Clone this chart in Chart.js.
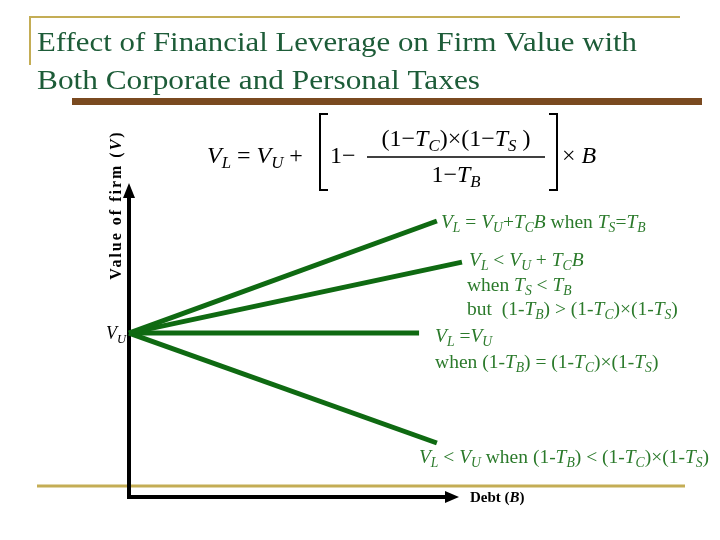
<!DOCTYPE html>
<html>
<head>
<meta charset="utf-8">
<script src="https://cdn.jsdelivr.net/npm/chart.js@4"></script>
<style>
  body { margin: 0; background: #fff; }
  canvas { display: block; }
</style>
</head>
<body>
<canvas id="leverageChart" width="720" height="540"></canvas>
<script>
// Four cases, each drawn as a line from V_U at zero debt
const cases = ['TS = TB', 'TS < TB, (1-TB) > (1-TC)(1-TS)', '(1-TB) = (1-TC)(1-TS)', '(1-TB) < (1-TC)(1-TS)'];
const debtStart = 0;
const firmValueStart = 52.2; // V_U
const debtEnd = [93.3, 100.9, 87.9, 93.3];
const firmValueEnd = [87.9, 74.8, 52.2, 17.2];

const titleLines = ['Effect of Financial Leverage on Firm Value with', 'Both Corporate and Personal Taxes'];

const SERIF = '"Liberation Serif", "Times New Roman", serif';
const lineGreen = '#0f6a12';
const textGreen = '#2b7a2b';

// draw text made of parts: n normal, i italic, b bold, bi bold italic, si/sn subscript
function rich(ctx, x, y, parts, size, measureOnly) {
    let cx = x;
    parts.forEach(([t, k]) => {
        const sub = k[0] === 's';
        const sz = sub ? size * 0.7 : size;
        let style = '';
        if (k.includes('i')) style += 'italic ';
        if (k.includes('b')) style += 'bold ';
        ctx.font = style + sz + 'px ' + SERIF;
        if (!measureOnly) ctx.fillText(t, cx, sub ? y + size * 0.22 : y);
        cx += ctx.measureText(t).width;
    });
    return cx - x;
}

// stretch a plain line of text to the given width
function fitText(ctx, text, x, y, width) {
    const w = ctx.measureText(text).width;
    ctx.save();
    ctx.translate(x, y);
    ctx.scale(width / w, 1);
    ctx.fillText(text, 0, 0);
    ctx.restore();
}

const slidePlugin = {
    id: 'slide',
    beforeDatasetsDraw(chart) {
        const ctx = chart.ctx;
        const xs = chart.scales.x, ys = chart.scales.y;
        ctx.save();

        // decoration lines
        ctx.strokeStyle = '#c4ad55';
        ctx.lineWidth = 2;
        ctx.beginPath();
        ctx.moveTo(30, 65); ctx.lineTo(30, 17); ctx.lineTo(680, 17);
        ctx.stroke();
        ctx.lineWidth = 3;
        ctx.beginPath();
        ctx.moveTo(37, 486); ctx.lineTo(685, 486);
        ctx.stroke();
        ctx.fillStyle = '#7a4a20';
        ctx.fillRect(72, 98, 630, 7);

        // title
        ctx.fillStyle = '#1d5c38';
        ctx.textBaseline = 'alphabetic';
        ctx.font = '28px ' + SERIF;
        fitText(ctx, titleLines[0], 37, 51, 600);
        fitText(ctx, titleLines[1], 37, 89, 443);

        // axes
        const x0 = xs.getPixelForValue(0), y0 = ys.getPixelForValue(0);
        const xMax = xs.getPixelForValue(xs.max), yMax = ys.getPixelForValue(ys.max);
        ctx.strokeStyle = '#000';
        ctx.fillStyle = '#000';
        ctx.lineWidth = 4;
        ctx.lineCap = 'square';
        ctx.beginPath();
        ctx.moveTo(x0, yMax + 12); ctx.lineTo(x0, y0); ctx.lineTo(xMax - 12, y0);
        ctx.stroke();
        ctx.beginPath();
        ctx.moveTo(x0, yMax); ctx.lineTo(x0 - 6, yMax + 15); ctx.lineTo(x0 + 6, yMax + 15);
        ctx.closePath(); ctx.fill();
        ctx.beginPath();
        ctx.moveTo(xMax, y0); ctx.lineTo(xMax - 14, y0 - 6); ctx.lineTo(xMax - 14, y0 + 6);
        ctx.closePath(); ctx.fill();
        ctx.restore();
    },
    afterDraw(chart) {
        const ctx = chart.ctx;
        const xs = chart.scales.x, ys = chart.scales.y;
        ctx.save();
        ctx.textBaseline = 'alphabetic';
        ctx.fillStyle = '#000';

        // formula
        const fs = 24;
        rich(ctx, 207, 163, [['V', 'i'], ['L', 'si'], [' = ', 'n'], ['V', 'i'], ['U', 'si'], [' +', 'n']], fs);
        ctx.strokeStyle = '#000';
        ctx.lineWidth = 2;
        ctx.beginPath();
        ctx.moveTo(328, 114); ctx.lineTo(320, 114); ctx.lineTo(320, 190); ctx.lineTo(328, 190);
        ctx.moveTo(549, 114); ctx.lineTo(557, 114); ctx.lineTo(557, 190); ctx.lineTo(549, 190);
        ctx.stroke();
        rich(ctx, 330, 163, [['1−', 'n']], fs);
        const num = [['(1−', 'n'], ['T', 'i'], ['C', 'si'], [')×(1−', 'n'], ['T', 'i'], ['S', 'si'], [' )', 'n']];
        const den = [['1−', 'n'], ['T', 'i'], ['B', 'si']];
        const nw = rich(ctx, 0, 0, num, fs, true);
        const dw = rich(ctx, 0, 0, den, fs, true);
        rich(ctx, 456 - nw / 2, 146, num, fs);
        rich(ctx, 456 - dw / 2, 182, den, fs);
        ctx.lineWidth = 1.5;
        ctx.beginPath();
        ctx.moveTo(367, 157); ctx.lineTo(545, 157);
        ctx.stroke();
        rich(ctx, 562, 163, [['× ', 'n'], ['B', 'i']], fs);

        // axis labels
        const yl = [['Value of firm (', 'b'], ['V', 'bi'], [')', 'b']];
        ctx.letterSpacing = '2px';
        const yw = rich(ctx, 0, 0, yl, 16, true);
        ctx.save();
        ctx.translate(121, 205);
        ctx.rotate(-Math.PI / 2);
        rich(ctx, -yw / 2, 0, yl, 16);
        ctx.restore();
        ctx.letterSpacing = '0px';
        rich(ctx, 470, 502, [['Debt (', 'b'], ['B', 'bi'], [')', 'b']], 15);
        rich(ctx, 106, 339, [['V', 'i'], ['U', 'si']], 18);

        // annotations next to line ends
        ctx.fillStyle = textGreen;
        const px = i => xs.getPixelForValue(debtEnd[i]);
        const py = i => ys.getPixelForValue(firmValueEnd[i]);
        const as = 19.5;
        rich(ctx, px(0) + 4, py(0) + 7, [['V', 'i'], ['L', 'si'], [' = ', 'n'], ['V', 'i'], ['U', 'si'], ['+', 'n'], ['T', 'i'], ['C', 'si'], ['B', 'i'], [' when ', 'n'], ['T', 'i'], ['S', 'si'], ['=', 'n'], ['T', 'i'], ['B', 'si']], as);
        rich(ctx, px(1) + 7, py(1) + 4, [['V', 'i'], ['L', 'si'], [' < ', 'n'], ['V', 'i'], ['U', 'si'], [' + ', 'n'], ['T', 'i'], ['C', 'si'], ['B', 'i']], as);
        rich(ctx, px(1) + 5, py(1) + 29, [['when ', 'n'], ['T', 'i'], ['S', 'si'], [' < ', 'n'], ['T', 'i'], ['B', 'si']], as);
        rich(ctx, px(1) + 5, py(1) + 53, [['but  (1-', 'n'], ['T', 'i'], ['B', 'si'], [') > (1-', 'n'], ['T', 'i'], ['C', 'si'], [')×(1-', 'n'], ['T', 'i'], ['S', 'si'], [')', 'n']], as);
        rich(ctx, px(2) + 16, py(2) + 9, [['V', 'i'], ['L', 'si'], [' =', 'n'], ['V', 'i'], ['U', 'si']], as);
        rich(ctx, px(2) + 16, py(2) + 35, [['when (1-', 'n'], ['T', 'i'], ['B', 'si'], [') = (1-', 'n'], ['T', 'i'], ['C', 'si'], [')×(1-', 'n'], ['T', 'i'], ['S', 'si'], [')', 'n']], as);
        rich(ctx, px(3) - 18, py(3) + 20, [['V', 'i'], ['L', 'si'], [' < ', 'n'], ['V', 'i'], ['U', 'si'], [' when (1-', 'n'], ['T', 'i'], ['B', 'si'], [') < (1-', 'n'], ['T', 'i'], ['C', 'si'], [')×(1-', 'n'], ['T', 'i'], ['S', 'si'], [')', 'n']], as);
        ctx.restore();
    }
};

const datasets = cases.map((c, i) => ({
    label: c,
    data: [{ x: debtStart, y: firmValueStart }, { x: debtEnd[i], y: firmValueEnd[i] }],
    borderColor: lineGreen,
    borderWidth: 5,
    borderCapStyle: 'butt',
    pointRadius: 0,
    clip: false
}));

new Chart(document.getElementById('leverageChart'), {
    type: 'line',
    data: { datasets },
    options: {
        responsive: false,
        animation: false,
        devicePixelRatio: 1,
        layout: { padding: { left: 129, right: 261, top: 183, bottom: 43 } },
        scales: {
            x: { type: 'linear', min: 0, max: 100, display: false },
            y: { type: 'linear', min: 0, max: 100, display: false }
        },
        plugins: {
            legend: { display: false },
            tooltip: { enabled: false },
            title: { display: false }
        }
    },
    plugins: [slidePlugin]
});
</script>
</body>
</html>
